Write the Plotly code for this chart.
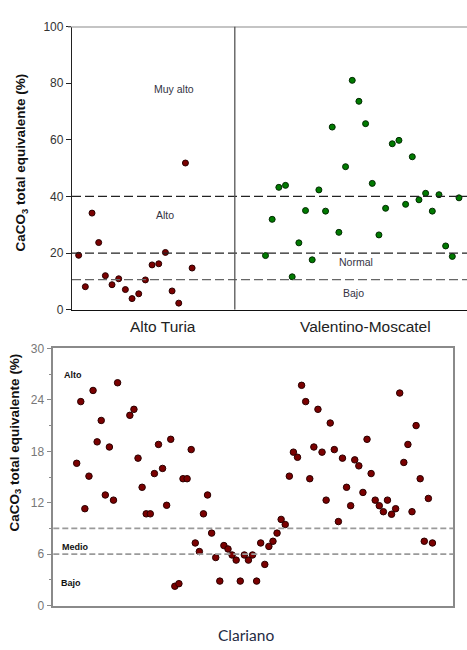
import plotly.graph_objects as go

# ---------------- data ----------------
alto_turia = [19.2, 8.1, 34.1, 23.7, 12.0, 8.8, 10.9, 7.1, 3.9, 5.6,
              10.5, 15.8, 16.2, 20.2, 6.6, 2.3, 51.8, 14.7]
valentino = [19.1, 31.9, 43.2, 43.9, 11.6, 23.6, 35.0, 17.6, 42.3, 34.8,
             64.5, 27.3, 50.5, 81.0, 73.6, 65.7, 44.6, 26.4, 35.8, 58.6,
             59.8, 37.2, 54.0, 38.8, 41.1, 34.8, 40.6, 22.5, 18.8, 39.5]
top_groups = ["Alto Turia", "Valentino-Moscatel"]
top_thresholds = [40, 20, 10.6]
top_class_labels = ["Muy alto", "Alto", "Normal", "Bajo"]
top_ticks = [0, 20, 40, 60, 80, 100]

clariano = [16.6, 23.8, 11.3, 15.1, 25.1, 19.1, 21.6, 12.9, 18.5, 12.3,
            26.0, None, None, 22.2, 22.9, 17.2, 13.8, 10.7, 10.7, 15.4,
            18.8, 16.0, 11.7, 19.4, 2.25, 2.55, 14.8, 14.8, 18.2, 7.3,
            6.3, 10.7, 12.9, 8.45, 5.6, 2.85, 7.0, 6.6, 5.9, 5.3,
            2.85, 5.9, 5.3, 5.9, 2.85, 7.3, 4.8, 6.9, 7.5, 8.45,
            10.05, 9.45, 15.1, 17.9, 17.3, 25.7, 23.8, 14.8, 18.5, 22.9,
            17.9, 12.3, 21.3, 18.2, 9.8, 17.2, 13.8, 11.65, 17.0, 16.3,
            13.2, 19.4, 15.4, 12.3, 11.65, 10.95, 12.3, 10.65, 11.3, 24.8,
            16.7, 18.8, 10.95, 21.0, 14.8, 7.5, 12.5, 7.3]
bottom_thresholds = [9, 6]
bottom_class_labels = ["Alto", "Medio", "Bajo"]
bottom_ticks = [0, 6, 12, 18, 24, 30]
bottom_group = "Clariano"

ytitle = "CaCO<sub>3</sub> total equivalente (%)"

# ---------------- figure ----------------
fig = go.Figure()

x_alto = list(range(len(alto_turia)))
x_val = [28 + i for i in range(len(valentino))]
x_clar = list(range(len(clariano)))

fig.add_trace(go.Scatter(x=x_alto, y=alto_turia, mode="markers",
                         marker=dict(size=6, color="#7a0000", line=dict(color="#2a0000", width=1)),
                         xaxis="x", yaxis="y", showlegend=False))
fig.add_trace(go.Scatter(x=x_val, y=valentino, mode="markers",
                         marker=dict(size=6, color="#007a00", line=dict(color="#002a00", width=1)),
                         xaxis="x", yaxis="y", showlegend=False))
fig.add_trace(go.Scatter(x=x_clar, y=clariano, mode="markers",
                         marker=dict(size=6.5, color="#7a0000", line=dict(color="#2a0000", width=1)),
                         xaxis="x2", yaxis="y2", showlegend=False))

shapes = []
# top thresholds
for i, t in enumerate(top_thresholds):
    shapes.append(dict(type="line", xref="x domain", yref="y", x0=0, x1=1, y0=t, y1=t,
                       line=dict(color="#222222" if i < 2 else "#666666", width=1.3,
                                 dash="9px,4px")))
# top border & divider
shapes.append(dict(type="line", xref="paper", yref="y", x0=68 / 467, x1=1, y0=100, y1=100,
                   line=dict(color="#8a8a8a", width=2)))
shapes.append(dict(type="line", xref="x", yref="y", x0=23.4, x1=23.4, y0=0, y1=100,
                   line=dict(color="#555555", width=1.3)))
# bottom thresholds
for t in bottom_thresholds:
    shapes.append(dict(type="line", xref="x2 domain", yref="y2", x0=0, x1=1, y0=t, y1=t,
                       line=dict(color="#9a9a9a", width=1.6, dash="6px,3px")))

annotations = []
top_label_pos = [(14.3, 77.8), (13, 33.6), (41.5, 16.9), (41.2, 5.9)]
for lab, (xx, yy) in zip(top_class_labels, top_label_pos):
    annotations.append(dict(text=lab, x=xx, y=yy, xref="x", yref="y", showarrow=False,
                            xanchor="center", yanchor="middle",
                            font=dict(family="Arial, Liberation Sans", size=10.5, color="#333344")))
for g, xc in zip(top_groups, [163, 365]):
    annotations.append(dict(text=g, x=xc / 467, y=(650 - 327) / 650, xref="paper", yref="paper",
                            showarrow=False, xanchor="center", yanchor="middle",
                            font=dict(family="Arial, Liberation Sans", size=15.5, color="#222222")))
bottom_label_pos = [(-1.0, 26.9), (-0.2, 6.8), (-1.4, 2.65)]
for lab, (xx, yy) in zip(bottom_class_labels, bottom_label_pos):
    annotations.append(dict(text="<b>" + lab + "</b>", x=xx, y=yy, xref="x2", yref="y2", showarrow=False,
                            xanchor="center", yanchor="middle",
                            font=dict(family="Arial, Liberation Sans", size=9, color="#111111")))
annotations.append(dict(text=bottom_group, x=246 / 467, y=(650 - 642) / 650, xref="paper", yref="paper",
                        showarrow=False, xanchor="center", yanchor="middle",
                        font=dict(family="Lato, Open Sans", size=15.5, color="#1f2b44")))
# y titles
annotations.append(dict(text="<b>" + ytitle + "</b>", x=22 / 467, y=(650 - 159) / 650, xref="paper",
                        yref="paper", showarrow=False, textangle=-90, xanchor="center", yanchor="middle",
                        font=dict(family="Arial, Liberation Sans", size=13.5, color="#111111")))
annotations.append(dict(text="<b>" + ytitle + "</b>", x=15 / 467, y=(650 - 445) / 650, xref="paper",
                        yref="paper", showarrow=False, textangle=-90, xanchor="center", yanchor="middle",
                        font=dict(family="Arial, Liberation Sans", size=13.5, color="#111111")))

fig.update_layout(
    width=467, height=650, autosize=False,
    margin=dict(l=0, r=0, t=0, b=0),
    paper_bgcolor="white", plot_bgcolor="white",
    shapes=shapes, annotations=annotations,
    xaxis=dict(domain=[72 / 467, 1.0], range=[-1.0, 58.2], showgrid=False, zeroline=False,
               showticklabels=False, ticks="", showline=True, linecolor="#111111", linewidth=1.3,
               anchor="y"),
    yaxis=dict(domain=[(650 - 309.3) / 650, (650 - 20) / 650], range=[0, 100], tickvals=top_ticks,
               showgrid=False, zeroline=False, showline=True, linecolor="#222222", linewidth=1.3,
               ticks="outside", ticklen=5, tickcolor="#222222",
               tickfont=dict(family="Arial, Liberation Sans", size=12, color="#333333"),
               anchor="x"),
    xaxis2=dict(domain=[53.3 / 467, 453.3 / 467], range=[-5.72, 92.1], showgrid=False, zeroline=False,
                showticklabels=False, ticks="", showline=True, mirror=True, linecolor="#8a8a8a",
                linewidth=1.5, anchor="y2"),
    yaxis2=dict(domain=[(650 - 611.7) / 650, (650 - 349) / 650], range=[0, 30], tickvals=bottom_ticks,
                showgrid=False, zeroline=False, showline=True, mirror=True, linecolor="#8a8a8a",
                linewidth=1.5, ticks="outside", ticklen=5, tickcolor="#8a8a8a",
                minor=dict(dtick=3, ticks="outside", ticklen=3, tickcolor="#8a8a8a", showgrid=False),
                tickfont=dict(family="Arial, Liberation Sans", size=12, color="#777777"),
                anchor="x2"),
)

fig.write_html("out.html", config={"displayModeBar": False},
               post_script="document.body.style.margin='0';document.body.style.overflow='hidden';")
